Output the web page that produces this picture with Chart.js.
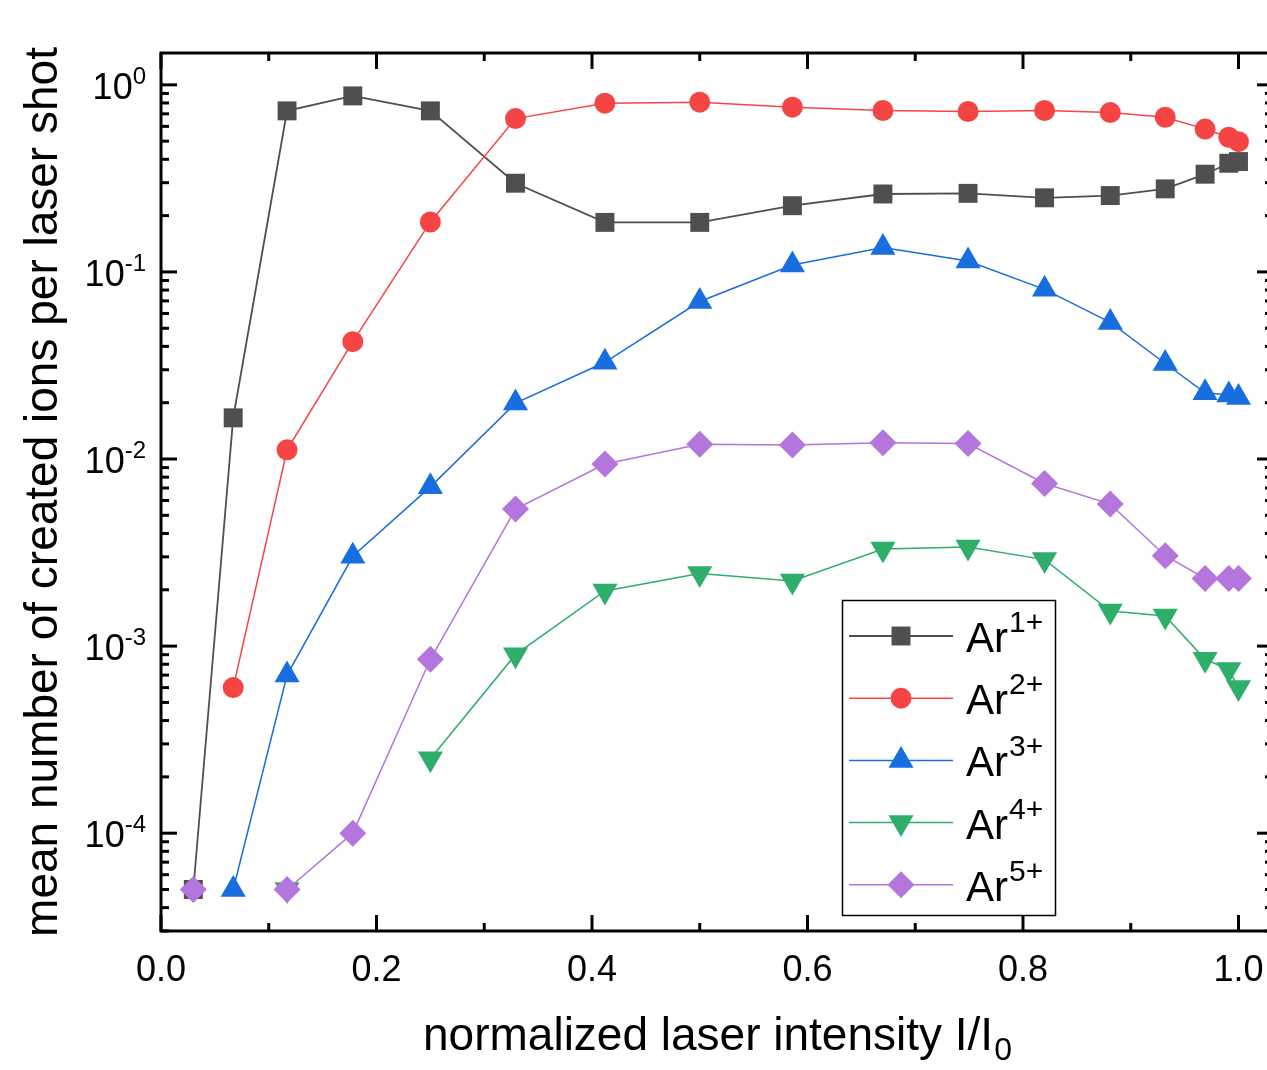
<!DOCTYPE html>
<html>
<head>
<meta charset="utf-8">
<script src="https://cdn.jsdelivr.net/npm/chart.js@4.4.1/dist/chart.umd.min.js"></script>
<style>
  html, body { margin: 0; padding: 0; background: #fff; overflow: hidden; }
  #wrap { width: 1267px; height: 1070px; }
</style>
</head>
<body>
<div id="wrap"><canvas id="chart" width="1267" height="1070"></canvas></div>
<script>
// normalized laser intensity I/I0 (shared x values)
const intensity = [0.03, 0.067, 0.117, 0.178, 0.25, 0.329, 0.412, 0.5, 0.586, 0.67, 0.749, 0.82, 0.881, 0.932, 0.969, 0.991, 1.0];

// mean number of created ions per laser shot
const ar1 = [5e-5, 0.0166, 0.726, 0.873, 0.726, 0.298, 0.184, 0.184, 0.226, 0.261, 0.263, 0.249, 0.256, 0.278, 0.333, 0.381, 0.389];
const ar2 = [null, 6.0e-4, 0.0112, 0.0424, 0.185, 0.66, 0.798, 0.808, 0.760, 0.729, 0.72, 0.729, 0.711, 0.671, 0.580, 0.525, 0.497];
const ar3 = [null, 5e-5, 7.0e-4, 0.00302, 0.0071, 0.0199, 0.0329, 0.0695, 0.109, 0.135, 0.1145, 0.0807, 0.0537, 0.0324, 0.0226, 0.0220, 0.0213];
const ar4 = [null, null, 5e-5, null, 2.5e-4, 9.0e-4, 1.97e-3, 2.44e-3, 2.23e-3, 3.3e-3, 3.39e-3, 2.9e-3, 1.54e-3, 1.45e-3, 8.5e-4, 7.5e-4, 6.0e-4];
const ar5 = [5e-5, null, 5e-5, 1.0e-4, 8.5e-4, 5.4e-3, 9.4e-3, 0.0120, 0.0119, 0.0122, 0.0121, 7.4e-3, 5.74e-3, 3.04e-3, 2.3e-3, 2.3e-3, 2.3e-3];

const chargeStates = ['1+', '2+', '3+', '4+', '5+'];
const xTicks = [0, 0.2, 0.4, 0.6, 0.8, 1.0];
const xMinorTicks = [0.1, 0.3, 0.5, 0.7, 0.9];
const yDecades = [-4, -3, -2, -1, 0];
const xAxisEnd = 1.032;   // right spine sits just past the picture edge

const FONT = '"Liberation Sans", Arial, sans-serif';

function series(vals, label, color, style, radius, rotation, order, width) {
  return {
    label,
    data: intensity.map((x, i) => ({ x, y: vals[i] })),
    borderColor: color,
    backgroundColor: color,
    borderWidth: width,
    pointStyle: style,
    pointRadius: radius,
    pointHoverRadius: radius,
    pointRotation: rotation,
    pointBorderWidth: 0,
    pointBackgroundColor: color,
    order,
    clip: false,
  };
}

const datasets = [
  series(ar1, 'Ar1+', '#4f4f4f', 'rect', 13.4, 0, 5, 1.8),
  series(ar2, 'Ar2+', '#f54444', 'circle', 10.5, 0, 4, 1.5),
  series(ar3, 'Ar3+', '#186ddf', 'triangle', 14.5, 0, 3, 1.5),
  series(ar4, 'Ar4+', '#2ead6b', 'triangle', 14.5, 180, 2, 1.5),
  series(ar5, 'Ar5+', '#b476dd', 'rectRot', 13.5, 0, 1, 1.5),
];

// axes frame, inward ticks, labels and legend box
const framePlugin = {
  id: 'frame',
  afterDatasetsDraw(chart) {
    const { ctx, chartArea: a, scales: { x, y } } = chart;
    const right = x.getPixelForValue(xAxisEnd);
    ctx.save();
    ctx.strokeStyle = '#000';
    ctx.lineWidth = 3;
    ctx.lineCap = 'butt';
    const line = (x1, y1, x2, y2) => { ctx.beginPath(); ctx.moveTo(x1, y1); ctx.lineTo(x2, y2); ctx.stroke(); };

    xTicks.forEach(v => {
      const px = x.getPixelForValue(v);
      line(px, a.bottom, px, a.bottom - 16);
      line(px, a.top, px, a.top + 16);
    });
    xMinorTicks.forEach(v => {
      const px = x.getPixelForValue(v);
      line(px, a.bottom, px, a.bottom - 8);
      line(px, a.top, px, a.top + 8);
    });
    for (let d = -5; d <= 0; d++) {
      for (let k = 1; k <= 9; k++) {
        const v = k * Math.pow(10, d);
        if (v < y.min || v > y.max) continue;
        const py = y.getPixelForValue(v);
        const len = k === 1 ? 16 : 8;
        line(a.left, py, a.left + len, py);
        line(right, py, right - len, py);
      }
    }
    ctx.strokeRect(a.left, a.top, right - a.left, a.bottom - a.top);

    // tick labels
    ctx.fillStyle = '#000';
    ctx.font = `36px ${FONT}`;
    ctx.textAlign = 'center';
    ctx.textBaseline = 'alphabetic';
    xTicks.forEach(v => ctx.fillText(v.toFixed(1), x.getPixelForValue(v), a.bottom + 50));

    yDecades.forEach(d => {
      const py = y.getPixelForValue(Math.pow(10, d));
      const exp = String(d);
      ctx.font = `24px ${FONT}`;
      const we = ctx.measureText(exp).width;
      ctx.font = `36px ${FONT}`;
      const wb = ctx.measureText('10').width;
      const end = a.left - 15;
      ctx.textAlign = 'left';
      ctx.fillText('10', end - we - wb, py + 14);
      ctx.font = `24px ${FONT}`;
      ctx.fillText(exp, end - we, py - 1);
    });

    // axis titles
    ctx.font = `46px ${FONT}`;
    ctx.save();
    ctx.translate(44, (a.top + a.bottom) / 2);
    ctx.rotate(-Math.PI / 2);
    ctx.textAlign = 'center';
    ctx.textBaseline = 'middle';
    ctx.fillText('mean number of created ions per laser shot', 0, 0);
    ctx.restore();

    const main = 'normalized laser intensity I/I';
    ctx.font = `46px ${FONT}`;
    const wm = ctx.measureText(main).width;
    ctx.font = `32px ${FONT}`;
    const ws = ctx.measureText('0').width;
    const cx = (a.left + right) / 2;
    const startX = cx - (wm + ws) / 2;
    ctx.textAlign = 'left';
    ctx.font = `46px ${FONT}`;
    ctx.fillText(main, startX, 1050);
    ctx.font = `32px ${FONT}`;
    ctx.fillText('0', startX + wm + 1, 1060);

    // legend
    const bx = 842.5, by = 600.5, bw = 213, bh = 315;
    ctx.fillStyle = '#fff';
    ctx.fillRect(bx, by, bw, bh);
    ctx.lineWidth = 1.5;
    ctx.strokeStyle = '#000';
    ctx.strokeRect(bx, by, bw, bh);
    chart.data.datasets.forEach((ds, i) => {
      const ly = 636 + i * 62.2;
      ctx.strokeStyle = ds.borderColor;
      ctx.lineWidth = ds.borderWidth;
      line(849, ly, 953, ly);
      ctx.fillStyle = ds.backgroundColor;
      Chart.helpers.drawPoint(ctx, {
        pointStyle: ds.pointStyle, radius: ds.pointRadius, rotation: ds.pointRotation, borderWidth: 0,
      }, 901, ly);
      ctx.fillStyle = '#000';
      ctx.font = `42px ${FONT}`;
      ctx.textAlign = 'left';
      ctx.fillText('Ar', 966, ly + 16);
      const wa = ctx.measureText('Ar').width;
      ctx.font = `30px ${FONT}`;
      ctx.fillText(chargeStates[i], 966 + wa + 1, ly - 4);
    });
    ctx.restore();
  }
};

// Chart.js keeps at least half a marker (14.5px) of padding on the right,
// so the scale max is set to land x=1.0 where the reference has it.
new Chart(document.getElementById('chart'), {
  type: 'line',
  data: { datasets },
  options: {
    responsive: false,
    animation: false,
    devicePixelRatio: 1,
    events: [],
    layout: { padding: { left: 161, top: 53, right: 14.5, bottom: 139 } },
    plugins: { legend: { display: false }, tooltip: { enabled: false } },
    scales: {
      x: { type: 'linear', min: 0, max: 1.013, display: false },
      y: { type: 'logarithmic', min: 3e-5, max: 1.48, display: false },
    },
  },
  plugins: [framePlugin],
});
</script>
</body>
</html>
